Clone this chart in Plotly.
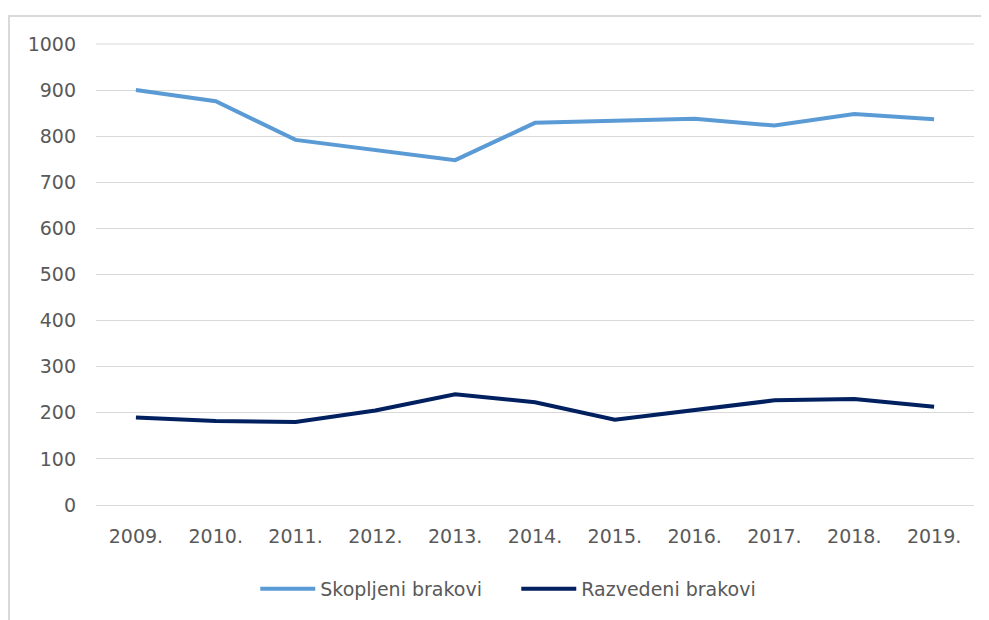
import plotly.graph_objects as go

years = ["2009.", "2010.", "2011.", "2012.", "2013.", "2014.", "2015.", "2016.", "2017.", "2018.", "2019."]
skopljeni = [900, 876, 792, 769, 748, 829, 834, 838, 823, 848, 837]
razvedeni = [190, 182, 180, 205, 240, 223, 185, 205, 227, 230, 213]
y_ticks = [0, 100, 200, 300, 400, 500, 600, 700, 800, 900, 1000]

FONT = "DejaVu Sans"
GRAY = "#595959"
GRID = "#D9D9D9"

fig = go.Figure()
fig.add_trace(go.Scatter(x=years, y=skopljeni, mode="lines", name="Skopljeni brakovi",
                         line=dict(color="#5B9BD5", width=4)))
fig.add_trace(go.Scatter(x=years, y=razvedeni, mode="lines", name="Razvedeni brakovi",
                         line=dict(color="#002060", width=4)))

fig.update_layout(
    width=989, height=620,
    margin=dict(l=88, r=23, t=36, b=123, autoexpand=False),
    paper_bgcolor="white", plot_bgcolor="white",
    font=dict(family=FONT, size=19, color=GRAY),
    showlegend=True,
    legend=dict(orientation="h", x=0.1814, xanchor="left", y=-0.182, yanchor="middle",
                font=dict(family=FONT, size=19, color=GRAY), itemwidth=55, entrywidth=191),
    shapes=[
        dict(type="rect", xref="paper", yref="paper", x0=-0.0991, x1=1.2, y0=-0.5, y1=1.0607,
             line=dict(color=GRID, width=2), layer="below"),
        dict(type="line", xref="paper", yref="paper", x0=0, x1=1, y0=1, y1=1,
             line=dict(color=GRID, width=1), layer="below"),
    ],
)
fig.update_xaxes(type="category", range=[-0.5, len(years) - 0.5], showgrid=False,
                 showline=True, linecolor=GRID, linewidth=1, automargin=False,
                 ticks="", tickfont=dict(family=FONT, size=19, color=GRAY), ticklabelstandoff=14)
fig.update_yaxes(range=[0, max(y_ticks)], tickvals=y_ticks, showgrid=True, gridcolor=GRID, gridwidth=1,
                 zeroline=False, showline=False, ticks="", automargin=False,
                 tickfont=dict(family=FONT, size=19, color=GRAY), ticklabelstandoff=19)

fig.write_html("out.html")
